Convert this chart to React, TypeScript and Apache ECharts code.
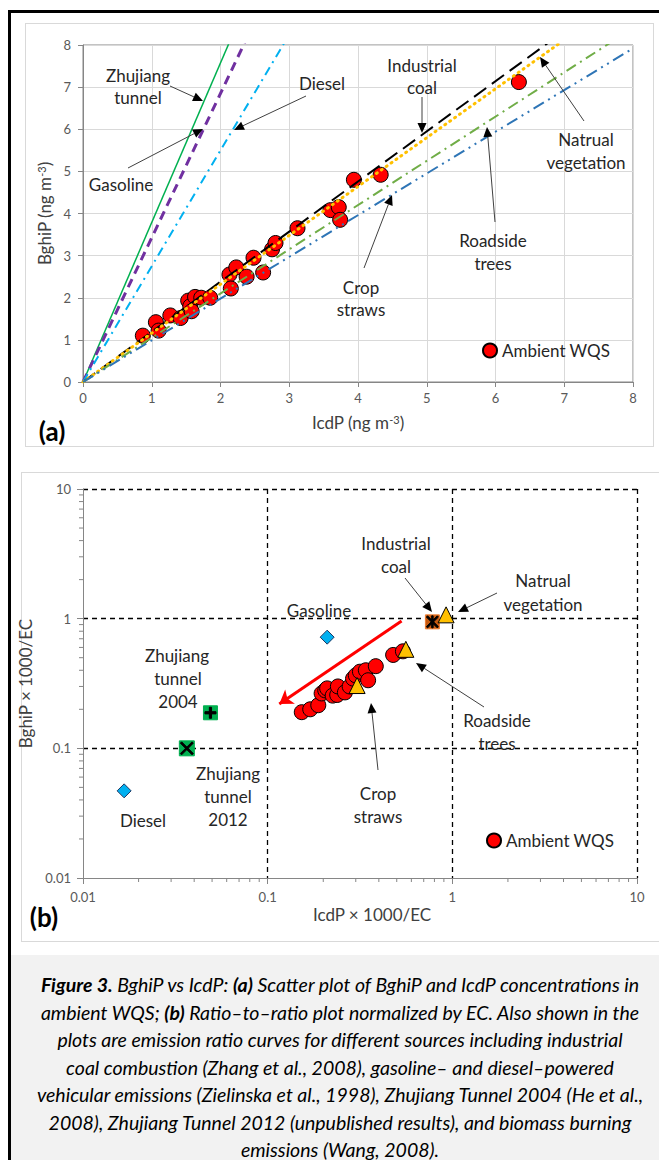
import React, { useEffect, useRef } from "react";
import * as echarts from "echarts";

// ---------- DATA ----------
// (a) ambient WQS concentrations [IcdP, BghiP] (ng m-3)
const ambientA: [number, number][] = [
  [0.87, 1.1], [1.06, 1.42], [1.1, 1.22], [1.27, 1.58], [1.42, 1.52], [1.53, 1.93],
  [1.56, 1.8], [1.58, 1.68], [1.63, 2.02], [1.72, 2.0], [1.85, 2.0], [2.13, 2.55],
  [2.15, 2.22], [2.23, 2.72], [2.38, 2.5], [2.48, 2.95], [2.62, 2.6], [2.75, 3.15],
  [2.8, 3.3], [3.12, 3.65], [3.6, 4.08], [3.72, 4.15], [3.74, 3.85], [3.94, 4.8],
  [4.33, 4.92], [6.34, 7.12],
];
// (a) emission ratio lines: name and BghiP value at IcdP = 8
const sourceNamesA = ["Zhujiang tunnel", "Gasoline", "Diesel", "Industrial coal", "Natrual vegetation", "Crop straws", "Roadside trees"];
const sourceEndYA = [30.3, 27.4, 22.0, 9.52, 9.28, 8.4, 7.92];

// (b) ratio-to-ratio [IcdP x1000/EC, BghiP x1000/EC]
const ambientB: [number, number][] = [
  [0.153, 0.19], [0.17, 0.2], [0.188, 0.215], [0.196, 0.265], [0.205, 0.28], [0.21, 0.29],
  [0.225, 0.255], [0.238, 0.258], [0.24, 0.3], [0.262, 0.27], [0.278, 0.3], [0.29, 0.345],
  [0.3, 0.365], [0.316, 0.39], [0.34, 0.4], [0.35, 0.335], [0.385, 0.43], [0.478, 0.525],
  [0.54, 0.56],
];
const gasolineB: [number, number] = [0.21, 0.72];
const dieselB: [number, number] = [0.0167, 0.047];
const tunnel2004B: [number, number] = [0.049, 0.188];
const tunnel2012B: [number, number] = [0.0365, 0.1];
const coalB: [number, number] = [0.78, 0.945];
const vegetationB: [number, number] = [0.925, 1.07];
const roadsideB: [number, number] = [0.56, 0.58];
const cropB: [number, number] = [0.305, 0.305];
const trendArrowB: [number, number][] = [[0.531, 0.958], [0.1156, 0.22]];
const minorTickValuesB = [0.02, 0.03, 0.04, 0.05, 0.06, 0.07, 0.08, 0.09, 0.2, 0.3, 0.4, 0.5, 0.6, 0.7, 0.8, 0.9, 2, 3, 4, 5, 6, 7, 8, 9];

// ---------- STYLES ----------
const FONT = "Lato, 'Open Sans', sans-serif";
const lineStylesA = [
  { color: "#00b050", width: 1.5, type: "solid" },
  { color: "#7030a0", width: 3, type: [9, 6] },
  { color: "#00b0f0", width: 2, type: [9, 5, 2, 5] },
  { color: "#000000", width: 2, type: [15, 7] },
  { color: "#ffc000", width: 3, type: [1, 5], cap: "round" },
  { color: "#70ad47", width: 2, type: [11, 5, 2, 5] },
  { color: "#2e75b6", width: 2, type: [12, 5, 2, 5, 2, 5] },
];

function txt(x: number, y: number, text: string, size = 17, extra: any = {}) {
  return {
    type: "text",
    x,
    y,
    z: 50,
    style: { text, x: 0, y: 0, align: "center", verticalAlign: "middle", font: `${size}px ${FONT}`, fill: "#262626", ...extra },
  };
}

function arrow(x1: number, y1: number, x2: number, y2: number) {
  const ang = Math.atan2(y2 - y1, x2 - x1);
  const L = 10;
  const W = 4.5;
  const bx = x2 - L * Math.cos(ang);
  const by = y2 - L * Math.sin(ang);
  const px = -Math.sin(ang) * W;
  const py = Math.cos(ang) * W;
  return [
    { type: "line", z: 50, shape: { x1, y1, x2: bx, y2: by }, style: { stroke: "#404040", lineWidth: 1 } },
    {
      type: "polygon",
      z: 50,
      shape: { points: [[x2, y2], [bx + px, by + py], [bx - px, by - py]] },
      style: { fill: "#000" },
    },
  ];
}

const PLUS = "path://M4,0H6V10H4Z M0,4H10V6H0Z";
const CROSS = "path://M0,1L1,0L10,9L9,10Z M9,0L10,1L1,10L0,9Z";
const STAR = "path://M0,1L1,0L10,9L9,10Z M9,0L10,1L1,10L0,9Z M4.4,0H5.6V10H4.4Z";

export default function App() {
  const ref = useRef<HTMLDivElement>(null);

  useEffect(() => {
    if (!ref.current) return;
    const chart = echarts.init(ref.current, null, { renderer: "svg" });

    const axisGray = "#868686";
    const labelStyle = { color: "#595959", fontSize: 13, fontFamily: FONT };
    const nameRich = {
      n: { fontSize: 17, color: "#404040", fontFamily: FONT },
      s: { fontSize: 11, color: "#404040", fontFamily: FONT, verticalAlign: "top" },
    };

    const lineSeriesA = sourceNamesA.map((name, i) => ({
      name,
      type: "line",
      xAxisIndex: 0,
      yAxisIndex: 0,
      data: [[0, 0], [8, sourceEndYA[i]]],
      symbol: "none",
      silent: true,
      z: 3,
      lineStyle: lineStylesA[i],
    }));

    const ptSeriesB = (name: string, d: [number, number], symbol: string, size: number, color: string, border = "#000", z = 4) => ({
      name,
      type: "scatter",
      xAxisIndex: 1,
      yAxisIndex: 1,
      data: [d],
      symbol,
      symbolSize: size,
      z,
      itemStyle: { color, borderColor: border, borderWidth: 1, opacity: 1 },
    });

    const legendBase = {
      data: ["Ambient WQS"],
      padding: 0,
      icon: "circle",
      itemWidth: 14,
      itemHeight: 14,
      itemGap: 5,
      selectedMode: false,
      textStyle: { fontSize: 17, color: "#262626", fontFamily: FONT },
    };

    const option: any = {
      animation: false,
      backgroundColor: "transparent",
      grid: [
        { left: 83, top: 45, width: 550, height: 337, show: true, borderColor: axisGray, borderWidth: 1, backgroundColor: "transparent" },
        { left: 83, top: 489, width: 554, height: 389, show: false },
      ],
      legend: [
        { ...legendBase, left: 482, top: 342 },
        { ...legendBase, left: 486, top: 832 },
      ],
      xAxis: [
        {
          gridIndex: 0,
          type: "value",
          min: 0,
          max: 8,
          interval: 1,
          name: "{n|IcdP (ng m}{s|-3}{n|)}",
          nameLocation: "middle",
          nameGap: 32,
          nameTextStyle: { rich: nameRich },
          axisLine: { show: true, lineStyle: { color: axisGray } },
          axisTick: { show: true, inside: false, length: 5, lineStyle: { color: axisGray } },
          axisLabel: { ...labelStyle, margin: 9 },
          splitLine: { show: true, lineStyle: { color: "#d9d9d9" } },
        },
        {
          gridIndex: 1,
          type: "log",
          logBase: 10,
          min: 0.01,
          max: 10,
          name: "{n|IcdP × 1000/EC}",
          nameLocation: "middle",
          nameGap: 28,
          nameTextStyle: { rich: nameRich, padding: [0, 0, 0, 24] },
          axisLine: { show: true, lineStyle: { color: axisGray } },
          axisTick: { show: true, inside: false, length: 6, lineStyle: { color: axisGray } },
          axisLabel: { ...labelStyle, margin: 12 },
          splitLine: { show: true, showMinLine: false, lineStyle: { color: "#000", type: [5, 4], width: 1.3 } },
        },
      ],
      yAxis: [
        {
          gridIndex: 0,
          type: "value",
          min: 0,
          max: 8,
          interval: 1,
          name: "{n|BghiP (ng m}{s|-3}{n|)}",
          nameLocation: "middle",
          nameGap: 28,
          nameRotate: 90,
          nameTextStyle: { rich: nameRich },
          axisLine: { show: true, lineStyle: { color: axisGray } },
          axisTick: { show: true, inside: false, length: 5, lineStyle: { color: axisGray } },
          axisLabel: { ...labelStyle, margin: 12 },
          splitLine: { show: true, lineStyle: { color: "#d9d9d9" } },
        },
        {
          gridIndex: 1,
          type: "log",
          logBase: 10,
          min: 0.01,
          max: 10,
          name: "{n|BghiP × 1000/EC}",
          nameLocation: "middle",
          nameGap: 32,
          nameRotate: 90,
          nameTextStyle: { rich: nameRich },
          axisLine: { show: true, lineStyle: { color: axisGray } },
          axisTick: { show: true, inside: false, length: 6, lineStyle: { color: axisGray } },
          axisLabel: { ...labelStyle, margin: 12 },
          splitLine: { show: true, showMinLine: false, lineStyle: { color: "#000", type: [5, 4], width: 1.3 } },
        },
      ],
      series: [
        {
          name: "Ambient WQS",
          type: "scatter",
          xAxisIndex: 0,
          yAxisIndex: 0,
          data: ambientA,
          symbol: "circle",
          symbolSize: 15,
          z: 2,
          itemStyle: { color: "#ff0000", borderColor: "#000", borderWidth: 1, opacity: 1 },
        },
        ...lineSeriesA,
        {
          name: "Ambient WQS",
          type: "scatter",
          xAxisIndex: 1,
          yAxisIndex: 1,
          data: ambientB,
          symbol: "circle",
          symbolSize: 15,
          z: 3,
          itemStyle: { color: "#ff0000", borderColor: "#000", borderWidth: 1, opacity: 1 },
          markLine: {
            silent: true,
            symbol: ["none", "arrow"],
            symbolSize: 13,
            label: { show: false },
            lineStyle: { color: "#ff0000", width: 3, type: "solid" },
            data: [[{ coord: trendArrowB[0] }, { coord: trendArrowB[1] }]],
          },
        },
        ptSeriesB("Gasoline", gasolineB, "diamond", 14, "#00b0f0", "#1f3864"),
        ptSeriesB("Diesel", dieselB, "diamond", 14, "#00b0f0", "#1f3864"),
        ptSeriesB("Zhujiang tunnel 2004", tunnel2004B, "rect", 14, "#00b050", "#00b050"),
        ptSeriesB("Zhujiang tunnel 2004 mark", tunnel2004B, PLUS, 11, "#000", "#000", 5),
        ptSeriesB("Zhujiang tunnel 2012", tunnel2012B, "rect", 15, "#00b050", "#00b050"),
        ptSeriesB("Zhujiang tunnel 2012 mark", tunnel2012B, CROSS, 13, "#000", "#000", 5),
        ptSeriesB("Industrial coal", coalB, "rect", 14, "#c55a11", "#ed7d31"),
        ptSeriesB("Industrial coal mark", coalB, STAR, 12, "#000", "#000", 5),
        ptSeriesB("Natrual vegetation", vegetationB, "triangle", 16, "#ffc000"),
        ptSeriesB("Roadside trees", roadsideB, "triangle", 16, "#ffc000", "#000", 6),
        ptSeriesB("Crop straws", cropB, "triangle", 16, "#ffc000", "#000", 6),
        {
          name: "minorX",
          type: "custom",
          xAxisIndex: 1,
          yAxisIndex: 1,
          clip: false,
          silent: true,
          data: minorTickValuesB.map((v) => [v, 0.01]),
          renderItem: (params: any, api: any) => {
            const p = api.coord([api.value(0), api.value(1)]);
            return { type: "line", shape: { x1: p[0], y1: p[1], x2: p[0], y2: p[1] + 4 }, style: { stroke: axisGray, lineWidth: 1 } };
          },
        },
        {
          name: "minorY",
          type: "custom",
          xAxisIndex: 1,
          yAxisIndex: 1,
          clip: false,
          silent: true,
          data: minorTickValuesB.map((v) => [0.01, v]),
          renderItem: (params: any, api: any) => {
            const p = api.coord([api.value(0), api.value(1)]);
            return { type: "line", shape: { x1: p[0] - 4, y1: p[1], x2: p[0], y2: p[1] }, style: { stroke: axisGray, lineWidth: 1 } };
          },
        },
      ],
      graphic: [
        // panel (a)
        txt(138, 75, "Zhujiang"),
        txt(138, 97, "tunnel"),
        ...arrow(170, 86, 203, 101),
        txt(121, 184, "Gasoline"),
        ...arrow(128, 168, 203, 129),
        txt(322, 83, "Diesel"),
        ...arrow(306, 96, 234, 130),
        txt(422, 65, "Industrial"),
        txt(422, 87, "coal"),
        ...arrow(422, 97, 422, 133),
        txt(586, 139, "Natrual"),
        txt(586, 162, "vegetation"),
        ...arrow(584, 121, 540, 57),
        txt(493, 240, "Roadside"),
        txt(493, 263, "trees"),
        ...arrow(495, 222, 487, 127),
        txt(361, 287, "Crop"),
        txt(361, 309, "straws"),
        ...arrow(364, 268, 392, 195),
        txt(52, 431, "(a)", 26, { font: `bold 26px ${FONT}`, fill: "#000" }),
        // panel (b)
        txt(396, 543, "Industrial"),
        txt(396, 566, "coal"),
        ...arrow(405, 578, 432, 612),
        txt(543, 580, "Natrual"),
        txt(543, 604, "vegetation"),
        ...arrow(497, 593, 458, 612),
        txt(319, 610, "Gasoline"),
        txt(177, 655, "Zhujiang"),
        txt(178, 678, "tunnel"),
        txt(178, 701, "2004"),
        txt(228, 773, "Zhujiang"),
        txt(228, 796, "tunnel"),
        txt(228, 819, "2012"),
        txt(143, 820, "Diesel"),
        txt(497, 720, "Roadside"),
        txt(497, 743, "trees"),
        ...arrow(484, 707, 416, 663),
        txt(378, 793, "Crop"),
        txt(378, 816, "straws"),
        ...arrow(378, 770, 371, 703),
        txt(44, 917, "(b)", 26, { font: `bold 26px ${FONT}`, fill: "#000" }),
      ],
    };

    chart.setOption(option);
    return () => chart.dispose();
  }, []);

  const captionLines: React.ReactNode[] = [
    <><b>Figure 3.</b> BghiP vs IcdP: <b>(a)</b> Scatter plot of BghiP and IcdP concentrations in</>,
    <>ambient WQS; <b>(b)</b> Ratio–to–ratio plot normalized by EC. Also shown in the</>,
    <>plots are emission ratio curves for different sources including industrial</>,
    <>coal combustion (Zhang et al., 2008), gasoline– and diesel–powered</>,
    <>vehicular emissions (Zielinska et al., 1998), Zhujiang Tunnel 2004 (He et al.,</>,
    <>2008), Zhujiang Tunnel 2012 (unpublished results), and biomass burning</>,
    <>emissions (Wang, 2008).</>,
  ];

  return (
    <div style={{ position: "absolute", left: 0, top: 0, width: 659, height: 1160, overflow: "hidden", background: "#fff" }}>
      {/* chart (a) box */}
      <div style={{ position: "absolute", left: 25, top: 23, width: 629, height: 424, border: "1px solid #d9d9d9", boxSizing: "border-box" }} />
      {/* chart (b) box */}
      <div style={{ position: "absolute", left: 21, top: 472, width: 660, height: 470, border: "1px solid #d9d9d9", boxSizing: "border-box" }} />
      {/* caption background */}
      <div style={{ position: "absolute", left: 10, top: 955, width: 660, height: 210, background: "#f2f2f2" }} />
      {/* black frame */}
      <div style={{ position: "absolute", left: 8, top: 10, width: 3, height: 1150, background: "#000" }} />
      <div style={{ position: "absolute", left: 8, top: 10, width: 660, height: 3, background: "#000" }} />
      <div ref={ref} style={{ position: "absolute", left: 0, top: 0, width: 659, height: 950 }} />
      {captionLines.map((l, i) => (
        <div
          key={i}
          style={{
            position: "absolute",
            left: 340 - 450,
            width: 900,
            top: 971 + i * 27.5,
            height: 28,
            lineHeight: "28px",
            textAlign: "center",
            whiteSpace: "nowrap",
            fontFamily: FONT,
            fontStyle: "italic",
            fontSize: 19.5,
            color: "#000",
          }}
        >
          {l}
        </div>
      ))}
    </div>
  );
}
